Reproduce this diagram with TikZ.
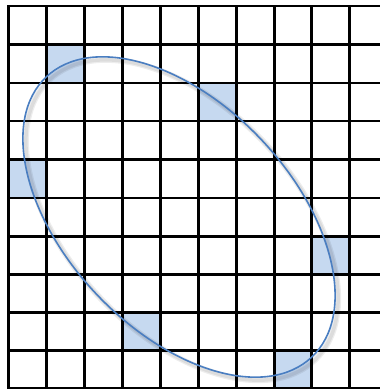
\documentclass[tikz,border=0pt]{standalone}
\definecolor{cellblue}{RGB}{198,217,240}
\definecolor{ringblue}{RGB}{74,126,193}
\begin{document}
\begin{tikzpicture}[x=1pt,y=-1pt,
  gridline/.style={line width=2.2pt,black,line cap=rect},
  cell/.style={fill=cellblue},
  ring/.style={draw=ringblue,line width=1.6pt},
  ringshadow/.style={draw=black,line width=#1,opacity=0.07}]
\useasboundingbox (0,0) rectangle (380,389);
% shaded cells
\fill[cell] (46.5,44.5) rectangle (84.5,83);
\fill[cell] (198.5,83) rectangle (236.5,121);
\fill[cell] (8.5,159.5) rectangle (46.5,198);
\fill[cell] (311.5,236.5) rectangle (349.5,274.5);
\fill[cell] (122.5,312.5) rectangle (160.5,350.5);
\fill[cell] (274.5,350.5) rectangle (311.5,388);
% grid
\foreach \x in {8.5,46.5,84.5,122.5,160.5,198.5,236.5,274.5,311.5,349.5}
  \draw[gridline] (\x,6) -- (\x,390);
\foreach \y in {6,44.5,83,121,159.5,198,236.5,274.5,312.5,350.5,388}
  \draw[gridline] (8.5,\y) -- (382,\y);
% ellipse shadow
\coordinate (c) at (179,217);
\coordinate (cs) at (182,220);
\draw[ringshadow=6pt, rotate around={-46.5:(cs)}] (cs) ellipse (193 and 113);
\draw[ringshadow=3.5pt, rotate around={-46.5:(cs)}] (cs) ellipse (193 and 113);
% ellipse
\draw[ring, rotate around={-46.5:(c)}] (c) ellipse (193 and 113);
\end{tikzpicture}
\end{document}
